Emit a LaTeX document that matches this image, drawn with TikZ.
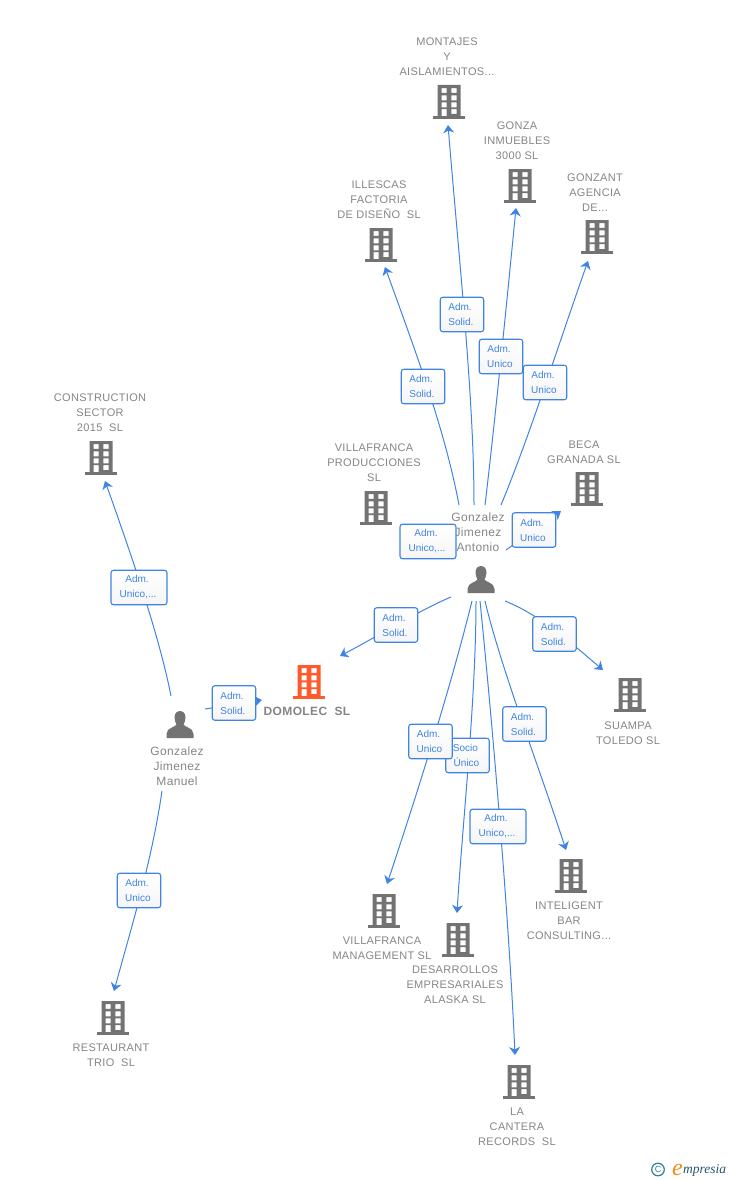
\documentclass[tikz,border=0pt]{standalone}
\usepackage{fontspec}
\setmainfont{Liberation Sans}
\newfontfamily\logofont{Liberation Serif}
\newfontfamily\widefont[LetterSpace=3]{Liberation Sans}
\usetikzlibrary{arrows.meta,shadings}
\definecolor{lblgrey}{HTML}{858585}
\definecolor{icongrey}{HTML}{737373}
\definecolor{edgeblue}{HTML}{3F84E5}
\definecolor{boxtext}{HTML}{3F84E5}
\definecolor{domored}{HTML}{FF5A2B}
\definecolor{logoteal}{HTML}{2F7F96}
\definecolor{logoorange}{HTML}{F28C1E}
\newcommand{\rl}[2]{\raisebox{-1.5pt}{#1}\hspace*{4pt}\\\raisebox{-1.5pt}{#2}\hspace*{2pt}}
\tikzset{
  x=1pt,y=-1pt,
  edge/.style={draw=edgeblue,line width=1pt,-{Stealth[length=8pt,width=11pt,inset=2.5pt]}},
  lbl/.style={text=lblgrey,font=\widefont\fontsize{11}{15}\selectfont,align=center,inner sep=0pt},
  perslbl/.style={text=lblgrey,font=\widefont\fontsize{12}{15}\selectfont,align=center,inner sep=0pt},
  rolebox/.style={draw=edgeblue,line width=1.1pt,rounded corners=2.5pt,top color=white,bottom color=white!96!black,text=boxtext,font=\fontsize{10}{15}\selectfont,align=center,inner sep=0pt,minimum height=34.5pt},
  narrow/.style={minimum width=43.5pt},
  wide/.style={minimum width=56pt},
  pics/building/.style={code={
    \fill[#1,even odd rule] (-11.5,-34) rectangle (11.5,-2)
      (-7.4,-30.9) rectangle (-2.4,-26.1) (2.4,-30.9) rectangle (7.6,-26.1)
      (-7.4,-23.7) rectangle (-2.4,-18.6) (2.4,-23.7) rectangle (7.6,-18.6)
      (-7.4,-16.7) rectangle (-2.4,-11.7) (2.4,-16.7) rectangle (7.6,-11.7)
      (-7.4,-9.9) rectangle (-2.4,-2) (2.4,-9.9) rectangle (7.6,-5);
    \fill[#1] (-16,-2.6) rectangle (16,0);
  }},
  pics/person/.style={code={
    \fill[icongrey] (0,-27) .. controls (-5,-27) and (-5.5,-22) .. (-5.5,-20)
      .. controls (-5.5,-17) and (-4,-15) .. (-3.5,-13.5)
      .. controls (-4,-11) and (-13.5,-10.5) .. (-13.5,-4) -- (-13.5,0) -- (13.5,0) -- (13.5,-4)
      .. controls (13.5,-10.5) and (4,-11) .. (3.5,-13.5)
      .. controls (4,-15) and (5.5,-17) .. (5.5,-20)
      .. controls (5.5,-22) and (5,-27) .. (0,-27) -- cycle;
  }}
}
\begin{document}
\begin{tikzpicture}
\useasboundingbox (0,0) rectangle (728,1180);
% icons
\pic at (449,119) {building=icongrey};
\pic at (520,203) {building=icongrey};
\pic at (597,254) {building=icongrey};
\pic at (381,262) {building=icongrey};
\pic at (101,475) {building=icongrey};
\pic at (376,525) {building=icongrey};
\pic at (587,506) {building=icongrey};
\pic at (309,699) {building=domored};
\pic at (630,712) {building=icongrey};
\pic at (571,893) {building=icongrey};
\pic at (384,928) {building=icongrey};
\pic at (458,957) {building=icongrey};
\pic at (519,1099) {building=icongrey};
\pic at (113,1035) {building=icongrey};
\pic at (481,593) {person};
\pic at (180,738) {person};
% labels
\node[lbl] (tMontajes) at (447,57) {MONTAJES\\Y\\AISLAMIENTOS...};
\node[lbl] (tGonza) at (517,141) {GONZA\\INMUEBLES\\3000 SL};
\node[lbl] (tGonzant) at (595,193) {GONZANT\\AGENCIA\\DE...};
\node[lbl] (tIllescas) at (379,200) {ILLESCAS\\FACTORIA\\DE DISEÑO\ \ SL};
\node[lbl] (tConstr) at (100,413) {CONSTRUCTION\\SECTOR\\2015\ \ SL};
\node[lbl] (tVProd) at (374,463) {VILLAFRANCA\\PRODUCCIONES\\SL};
\node[lbl] (tBeca) at (584,452) {BECA\\GRANADA SL};
\node[lbl,font=\widefont\fontsize{12}{15}\selectfont\bfseries] (tDomolec) at (307,711.5) {DOMOLEC\ \ SL};
\node[lbl] (tSuampa) at (628,733.5) {SUAMPA\\TOLEDO SL};
\node[lbl] (tIntel) at (569,921) {INTELIGENT\\BAR\\CONSULTING...};
\node[lbl] (tVMgmt) at (382,948.5) {VILLAFRANCA\\MANAGEMENT SL};
\node[lbl] (tDesa) at (455,985) {DESARROLLOS\\EMPRESARIALES\\ALASKA SL};
\node[lbl] (tCantera) at (517,1127) {LA\\CANTERA\\RECORDS\ \ SL};
\node[lbl] (tRest) at (111,1055.5) {RESTAURANT\\TRIO\ \ SL};
\node[perslbl] (tAntonio) at (478,532) {Gonzalez\\Jimenez\\Antonio};
\node[perslbl] (tManuel) at (177,766) {Gonzalez\\Jimenez\\Manuel};
% connector ends
\coordinate (sMontajes) at (474,505); \coordinate (eMontajes) at (448,125);
\coordinate (sGonza) at (485,505);    \coordinate (eGonza) at (516,208);
\coordinate (sGonzant) at (501,505);  \coordinate (eGonzant) at (588,261);
\coordinate (sIllescas) at (459,505); \coordinate (eIllescas) at (385,267);
\coordinate (sBeca) at (506,550);     \coordinate (eBeca) at (561,511);
\coordinate (sDomoA) at (451,597);    \coordinate (eDomoA) at (340,656);
\coordinate (sSuampa) at (505,601);   \coordinate (eSuampa) at (603,670);
\coordinate (sIntel) at (485,601);    \coordinate (eIntel) at (566,850);
\coordinate (sCantera) at (480,601);  \coordinate (eCantera) at (515,1055);
\coordinate (sDesa) at (476,601);     \coordinate (eDesa) at (457,913);
\coordinate (sVMgmt) at (472,601);    \coordinate (eVMgmt) at (387,884);
\coordinate (sDomoM) at (205,709);    \coordinate (eDomoM) at (262,700);
\coordinate (sConstr) at (171,696);   \coordinate (eConstr) at (105,481);
\coordinate (sRest) at (162,791);     \coordinate (eRest) at (114,991);
% connectors
\draw[edge] (sMontajes) .. controls (474,400) and (460,270) .. (eMontajes);
\draw[edge] (sGonza) .. controls (494,430) and (506,310) .. (eGonza);
\draw[edge] (sGonzant) .. controls (530,435) and (560,340) .. (eGonzant);
\draw[edge] (sIllescas) .. controls (445,430) and (415,350) .. (eIllescas);
\draw[edge] (sBeca) -- (eBeca);
\draw[edge] (sDomoA) .. controls (420,610) and (380,635) .. (eDomoA);
\draw[edge] (sSuampa) .. controls (540,615) and (570,642) .. (eSuampa);
\draw[edge] (sIntel) .. controls (500,665) and (540,770) .. (eIntel);
\draw[edge] (sCantera) .. controls (490,700) and (508,900) .. (eCantera);
\draw[edge] (sDesa) .. controls (476,700) and (462,830) .. (eDesa);
\draw[edge] (sVMgmt) .. controls (450,690) and (415,800) .. (eVMgmt);
\draw[edge] (sDomoM) -- (eDomoM);
\draw[edge] (sConstr) .. controls (160,640) and (135,565) .. (eConstr);
\draw[edge] (sRest) .. controls (152,860) and (132,925) .. (eRest);
% role boxes
\node[rolebox,narrow] (bMontajes) at (462,314.5) {\rl{Adm.}{Solid.}};
\node[rolebox,narrow] (bGonza) at (501,356.5) {\rl{Adm.}{Unico}};
\node[rolebox,narrow] (bGonzant) at (545,382.5) {\rl{Adm.}{Unico}};
\node[rolebox,narrow] (bIllescas) at (423,386.5) {\rl{Adm.}{Solid.}};
\node[rolebox,wide] (bVProd) at (428,541.5) {\rl{Adm.}{Unico,...}};
\node[rolebox,narrow] (bBeca) at (534,530) {\rl{Adm.}{Unico}};
\node[rolebox,narrow] (bDomoA) at (396,625) {\rl{Adm.}{Solid.}};
\node[rolebox,narrow] (bSuampa) at (554.5,634) {\rl{Adm.}{Solid.}};
\node[rolebox,narrow] (bIntel) at (524.5,724) {\rl{Adm.}{Solid.}};
\node[rolebox,narrow] (bDesa) at (467.5,755.5) {\rl{Socio}{Único}};
\node[rolebox,narrow] (bVMgmt) at (430.5,741.5) {\rl{Adm.}{Unico}};
\node[rolebox,wide] (bCantera) at (498,826.5) {\rl{Adm.}{Unico,...}};
\node[rolebox,narrow] (bDomoM) at (234,703) {\rl{Adm.}{Solid.}};
\node[rolebox,wide] (bConstr) at (139,587.5) {\rl{Adm.}{Unico,...}};
\node[rolebox,narrow] (bRest) at (139,890.5) {\rl{Adm.}{Unico}};
% footer
\draw[logoteal,line width=1.2pt] (658,1169.5) circle (6.3pt);
\node[text=logoteal,font=\fontsize{9}{9}\selectfont,inner sep=0pt] (copyc) at (658,1169.5) {C};
\node[text=logoorange,font=\logofont\itshape\fontsize{24}{24}\selectfont,inner sep=0pt,anchor=base west] (logoE) at (672,1175) {e};
\node[text=logoteal!70!black,font=\logofont\itshape\fontsize{13.5}{13.5}\selectfont,inner sep=0pt,anchor=base west] (logoT) at (683,1173) {mpresia};
\end{tikzpicture}
\end{document}
